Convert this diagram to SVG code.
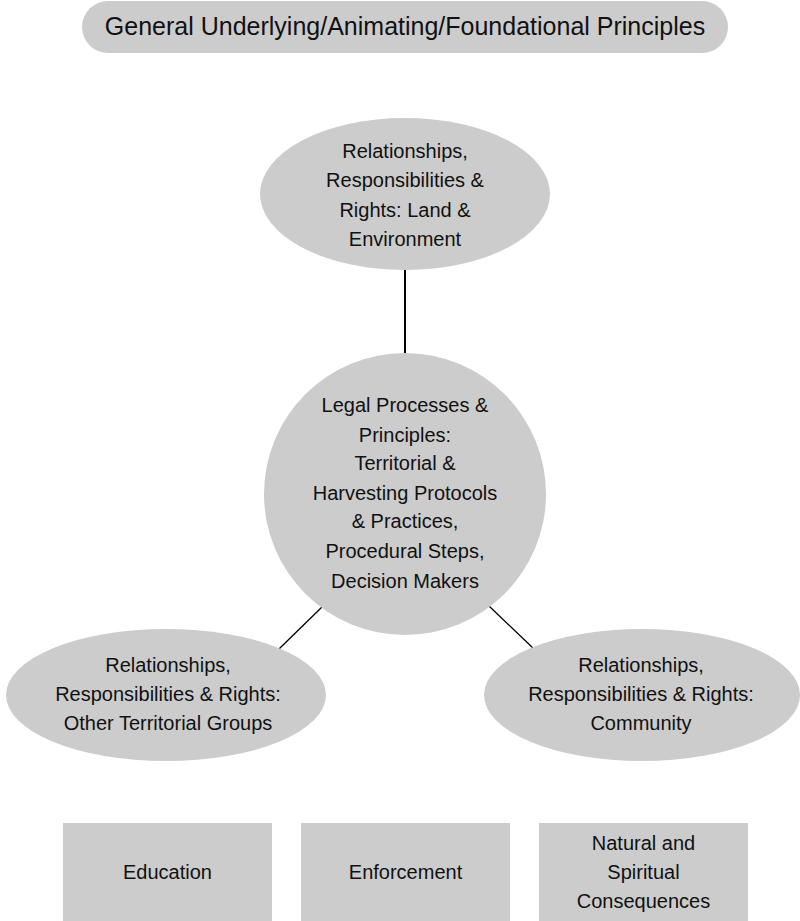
<svg xmlns="http://www.w3.org/2000/svg" width="800" height="921" viewBox="0 0 800 921">
  <style>
    .shape { fill: #cccccc; stroke: none; }
    .t { font-family: "Liberation Sans", Arial, sans-serif; font-size: 20px; fill: #111111; text-anchor: middle; }
    .title { font-size: 25px; }
    .conn { stroke: #000000; fill: none; }
  </style>
  <rect width="800" height="921" fill="#ffffff"/>
  <g id="principles">
    <rect class="shape" x="82" y="1" width="646" height="52" rx="26" ry="26"/>
    <text class="t title" x="405" y="35">General Underlying/Animating/Foundational Principles</text>
  </g>
  <g id="connectors">
    <line class="conn" x1="405" y1="268" x2="405" y2="355" stroke-width="2"/>
    <line class="conn" x1="323" y1="606" x2="279" y2="649" stroke-width="1.3"/>
    <line class="conn" x1="489" y1="606" x2="534" y2="649" stroke-width="1.3"/>
  </g>
  <g id="land">
    <ellipse class="shape" cx="405" cy="194" rx="145" ry="76"/>
    <text class="t" x="405" y="158">Relationships,</text>
    <text class="t" x="405" y="187">Responsibilities &amp;</text>
    <text class="t" x="405" y="217">Rights: Land &amp;</text>
    <text class="t" x="405" y="246">Environment</text>
  </g>
  <g id="legal">
    <circle class="shape" cx="405" cy="494" r="141"/>
    <text class="t" x="405" y="412">Legal Processes &amp;</text>
    <text class="t" x="405" y="442">Principles:</text>
    <text class="t" x="405" y="470">Territorial &amp;</text>
    <text class="t" x="405" y="500">Harvesting Protocols</text>
    <text class="t" x="405" y="528">&amp; Practices,</text>
    <text class="t" x="405" y="558">Procedural Steps,</text>
    <text class="t" x="405" y="588">Decision Makers</text>
  </g>
  <g id="groups">
    <ellipse class="shape" cx="166" cy="695" rx="160" ry="66"/>
    <text class="t" x="168" y="672">Relationships,</text>
    <text class="t" x="168" y="701">Responsibilities &amp; Rights:</text>
    <text class="t" x="168" y="730">Other Territorial Groups</text>
  </g>
  <g id="community">
    <ellipse class="shape" cx="642" cy="695" rx="158" ry="66"/>
    <text class="t" x="641" y="672">Relationships,</text>
    <text class="t" x="641" y="701">Responsibilities &amp; Rights:</text>
    <text class="t" x="641" y="730">Community</text>
  </g>
  <g id="education">
    <rect class="shape" x="63" y="823" width="209" height="98"/>
    <text class="t" x="167.5" y="879">Education</text>
  </g>
  <g id="enforcement">
    <rect class="shape" x="301" y="823" width="209" height="98"/>
    <text class="t" x="405.5" y="879">Enforcement</text>
  </g>
  <g id="consequences">
    <rect class="shape" x="539" y="823" width="209" height="98"/>
    <text class="t" x="643.5" y="850">Natural and</text>
    <text class="t" x="643.5" y="879">Spiritual</text>
    <text class="t" x="643.5" y="908">Consequences</text>
  </g>
</svg>
